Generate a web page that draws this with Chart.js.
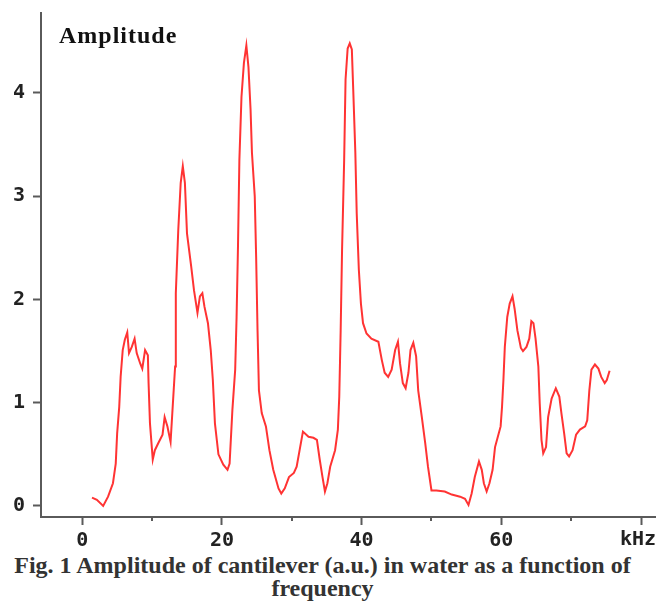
<!DOCTYPE html>
<html>
<head>
<meta charset="utf-8">
<title>Amplitude of cantilever in water</title>
<script src="https://cdn.jsdelivr.net/npm/chart.js@4.4.1/dist/chart.umd.min.js"></script>
<style>
  body { margin: 0; background: #fff; }
  #chart { position: absolute; left: 0; top: 0; }
  #caption {
    position: absolute; left: 0; top: 554px; width: 645px;
    text-align: center; color: #333;
    font: bold 24px "Liberation Serif", "Times New Roman", serif;
    line-height: 23px;
  }
</style>
</head>
<body>
<canvas id="chart" width="659" height="552"></canvas>
<div id="caption">Fig. 1 Amplitude of cantilever (a.u.) in water as a function of<br>frequency</div>
<script>
// frequency (kHz)
const freqKHz = [
  1.4, 2.1, 3.0, 3.7, 4.4, 4.8, 5.0, 5.3, 5.5, 5.8,
  6.1, 6.45, 6.7, 7.1, 7.5, 7.8, 8.3, 8.6, 9.0, 9.4,
  9.5, 9.7, 10.1, 10.4, 10.9, 11.5, 11.8, 12.2, 12.65, 12.9,
  13.3, 13.4, 13.75, 14.1, 14.4, 14.7, 15.0, 15.6, 16.0, 16.5,
  16.85, 17.2, 17.5, 18.0, 18.4, 18.7, 19.0, 19.5, 20.2, 20.8,
  21.1, 21.5, 21.9, 22.1, 22.3, 22.5, 22.8, 23.15, 23.5, 23.8,
  24.1, 24.3, 24.7, 24.9, 25.1, 25.3, 25.7, 26.3, 26.8, 27.35,
  28.1, 28.5, 29.0, 29.6, 30.3, 30.7, 31.2, 31.6, 32.4, 33.1,
  33.6, 34.0, 34.4, 34.75, 35.1, 35.5, 36.2, 36.6, 36.8, 37.0,
  37.2, 37.5, 37.7, 38.0, 38.3, 38.6, 38.8, 39.1, 39.3, 39.6,
  39.9, 40.2, 40.7, 41.4, 42.4, 42.9, 43.3, 43.8, 44.3, 44.8,
  45.2, 45.5, 45.9, 46.3, 46.7, 47.0, 47.4, 47.8, 48.1, 48.6,
  49.1, 49.5, 50.0, 50.7, 51.9, 52.9, 54.1, 54.8, 55.3, 55.75,
  56.2, 56.8, 57.2, 57.5, 57.9, 58.3, 58.75, 59.1, 59.5, 59.9,
  60.1, 60.3, 60.5, 60.85, 61.2, 61.6, 61.9, 62.3, 62.8, 63.1,
  63.6, 64.0, 64.3, 64.6, 64.9, 65.3, 65.5, 65.75, 66.0, 66.4,
  66.7, 67.2, 67.8, 68.3, 68.6, 69.0, 69.35, 69.7, 70.2, 70.7,
  71.25, 72.0, 72.3, 72.6, 72.9, 73.4, 73.9, 74.3, 74.8, 75.1,
  75.5
];

// amplitude (a.u.) at each frequency
const amplitude = [
  0.08, 0.06, 0.00, 0.09, 0.22, 0.41, 0.70, 0.96, 1.25, 1.51,
  1.61, 1.68, 1.48, 1.54, 1.62, 1.48, 1.38, 1.33, 1.51, 1.46,
  1.19, 0.80, 0.45, 0.54, 0.61, 0.69, 0.86, 0.77, 0.62, 0.90,
  1.35, 2.06, 2.67, 3.13, 3.29, 3.13, 2.64, 2.32, 2.09, 1.87,
  2.03, 2.06, 1.93, 1.77, 1.51, 1.22, 0.80, 0.50, 0.40, 0.35,
  0.41, 0.93, 1.32, 1.83, 2.51, 3.35, 3.96, 4.29, 4.46, 4.25,
  3.84, 3.42, 3.00, 2.41, 1.70, 1.12, 0.90, 0.77, 0.54, 0.35,
  0.17, 0.12, 0.17, 0.28, 0.32, 0.38, 0.57, 0.72, 0.67, 0.66,
  0.64, 0.45, 0.28, 0.14, 0.22, 0.38, 0.54, 0.74, 1.06, 1.70,
  2.48, 3.35, 4.13, 4.43, 4.48, 4.42, 4.03, 3.42, 2.83, 2.29,
  1.96, 1.77, 1.67, 1.62, 1.59, 1.41, 1.29, 1.25, 1.32, 1.51,
  1.59, 1.38, 1.19, 1.14, 1.29, 1.51, 1.58, 1.45, 1.12, 0.87,
  0.61, 0.38, 0.15, 0.15, 0.14, 0.11, 0.09, 0.07, 0.01, 0.12,
  0.28, 0.43, 0.35, 0.22, 0.14, 0.22, 0.35, 0.57, 0.67, 0.77,
  0.96, 1.22, 1.54, 1.83, 1.96, 2.03, 1.91, 1.70, 1.53, 1.50,
  1.54, 1.62, 1.79, 1.77, 1.62, 1.35, 0.99, 0.64, 0.51, 0.57,
  0.86, 1.04, 1.14, 1.06, 0.90, 0.70, 0.51, 0.48, 0.54, 0.69,
  0.74, 0.77, 0.83, 1.12, 1.32, 1.37, 1.33, 1.25, 1.19, 1.22,
  1.31
];

// axis ticks
const xMajorTicks = [0, 20, 40, 60, 80];
const xMajorLabels = ['0', '20', '40', '60', ''];
const xMinorTicks = [10, 30, 50, 70];
const yTicks = [0, 1, 2, 3, 4];
const yTitle = 'Amplitude';
const xTitle = 'kHz';

const axisColor = '#5a5a5a';
const tickFont = { family: '"DejaVu Sans Mono", monospace', size: 20, weight: 'bold' };

// title, unit and the short minor ticks on the x axis
const extrasPlugin = {
  id: 'extras',
  afterDraw: function (chart) {
    const ctx = chart.ctx;
    const area = chart.chartArea;
    const xs = chart.scales.x;
    ctx.save();
    ctx.strokeStyle = axisColor;
    ctx.lineWidth = 2;
    xMinorTicks.forEach(function (v) {
      const px = Math.round(xs.getPixelForValue(v));
      ctx.beginPath();
      ctx.moveTo(px, area.bottom);
      ctx.lineTo(px, area.bottom + 4);
      ctx.stroke();
    });

    ctx.fillStyle = '#111';
    ctx.textBaseline = 'alphabetic';
    ctx.font = 'bold 24px "Liberation Serif", serif';
    ctx.letterSpacing = '1px';
    ctx.fillText(yTitle, area.left + 18, 43);

    ctx.letterSpacing = '0px';
    ctx.font = 'bold 20px "DejaVu Sans Mono", monospace';
    ctx.fillStyle = '#222';
    ctx.textAlign = 'right';
    ctx.fillText(xTitle, area.right + 1, area.bottom + 28);
    ctx.restore();
  }
};

// keep the axes from reserving extra room for half tick labels
function noLabelPadding(scale) {
  scale.paddingTop = 0;
  scale.paddingBottom = 0;
  scale.paddingLeft = 0;
  scale.paddingRight = 0;
}

const points = freqKHz.map((f, i) => ({ x: f, y: amplitude[i] }));

new Chart(document.getElementById('chart'), {
  type: 'line',
  data: {
    datasets: [{
      data: points,
      borderColor: '#f33',
      borderWidth: 2,
      pointRadius: 0,
      tension: 0,
      fill: false
    }]
  },
  options: {
    responsive: false,
    animation: false,
    layout: { padding: { top: 13, right: 4, left: 0, bottom: 0 } },
    plugins: { legend: { display: false }, tooltip: { enabled: false } },
    scales: {
      x: {
        type: 'linear',
        min: -5.9,
        max: 82,
        afterFit: function (scale) { scale.height = 35; noLabelPadding(scale); },
        afterBuildTicks: function (scale) {
          scale.ticks = xMajorTicks.map(v => ({ value: v }));
        },
        border: { display: true, color: axisColor, width: 2 },
        grid: { drawOnChartArea: false, drawTicks: true, tickLength: 8, tickWidth: 2, tickColor: axisColor },
        ticks: {
          autoSkip: false,
          maxRotation: 0,
          padding: 4,
          color: '#222',
          font: tickFont,
          callback: function (value, index) { return xMajorLabels[index]; }
        }
      },
      y: {
        type: 'linear',
        min: -0.107,
        max: 4.774,
        afterFit: function (scale) { scale.width = 41; noLabelPadding(scale); },
        afterBuildTicks: function (scale) {
          scale.ticks = yTicks.map(v => ({ value: v }));
        },
        border: { display: true, color: axisColor, width: 2 },
        grid: { drawOnChartArea: false, drawTicks: true, tickLength: 8, tickWidth: 2, tickColor: axisColor },
        ticks: {
          padding: 8,
          color: '#222',
          font: tickFont,
          callback: function (value) { return String(value); }
        }
      }
    }
  },
  plugins: [extrasPlugin]
});
</script>
</body>
</html>
